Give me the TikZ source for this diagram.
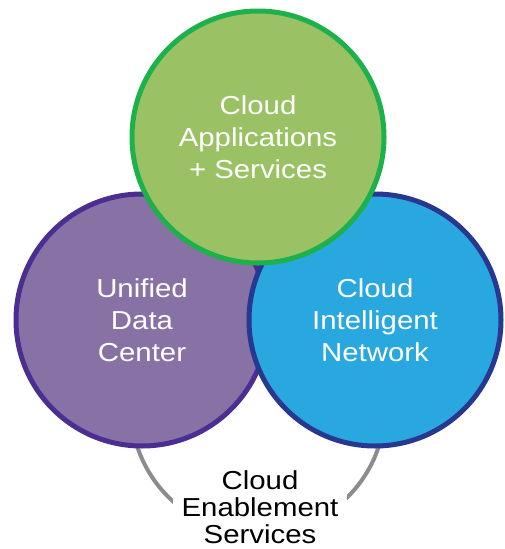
\documentclass[tikz,border=0pt]{standalone}
\usepackage{fontspec}
\newfontfamily\ciscofont{Liberation Sans}[FakeStretch=1.13]
\definecolor{appsfill}{RGB}{154,194,100}
\definecolor{appsline}{RGB}{29,177,75}
\definecolor{dcfill}{RGB}{136,114,165}
\definecolor{dcline}{RGB}{75,46,145}
\definecolor{netfill}{RGB}{41,168,224}
\definecolor{netline}{RGB}{40,56,145}
\definecolor{ringgray}{RGB}{140,140,140}

\begin{document}
\begin{tikzpicture}[x=1pt,y=-1pt,
  bubble/.style={circle,minimum size=252pt,line width=5pt,text=white,
                 align=center,font=\ciscofont\fontsize{26}{32}\selectfont},
  ring/.style={circle,minimum size=254pt,line width=4pt,draw=ringgray},
  tag/.style={fill=white,minimum width=174pt,minimum height=84pt,align=center,
              font=\ciscofont\fontsize{26}{27}\selectfont}]
\useasboundingbox (0,0) rectangle (504,549);

\node[ring] (enable) at (258,407) {};
\node[tag] (enabletext) at (260,507) {Cloud\\Enablement\\Services};

\node[bubble,fill=dcfill,draw=dcline] (datacenter) at (142,320) {Unified\\Data\\Center};
\node[bubble,fill=netfill,draw=netline] (network) at (375,320) {Cloud\\Intelligent\\Network};
\node[bubble,fill=appsfill,draw=appsline] (apps) at (258,137) {Cloud\\Applications\\+ Services};

\end{tikzpicture}
\end{document}
